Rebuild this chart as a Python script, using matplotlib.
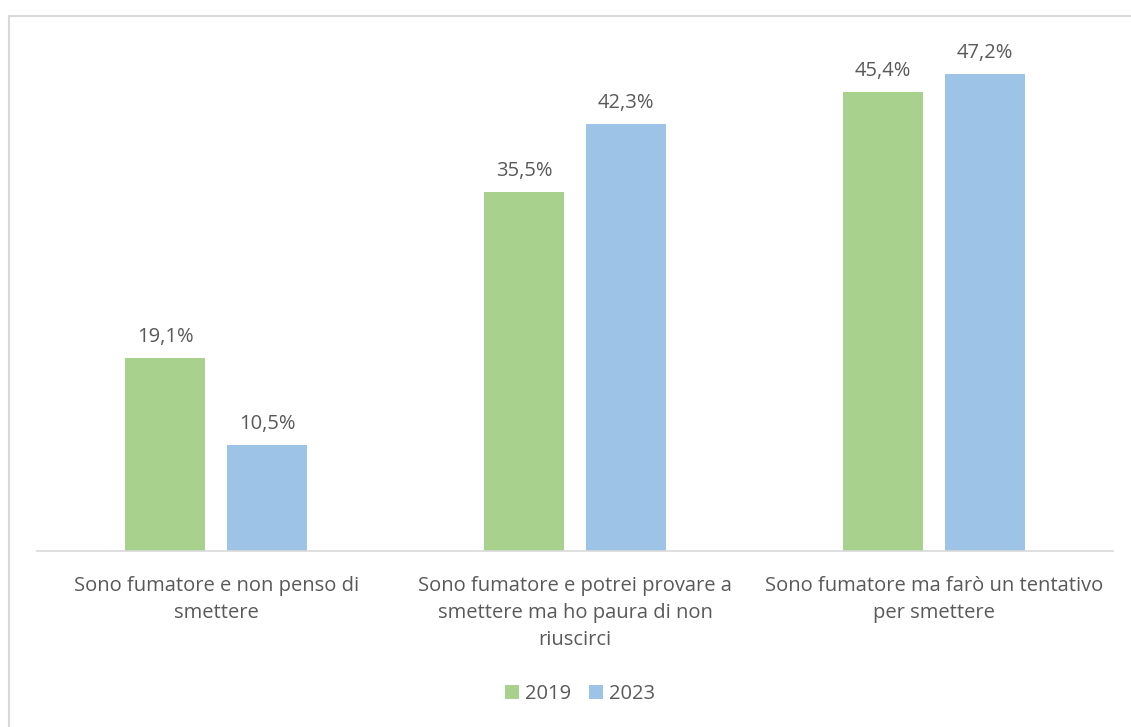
import matplotlib.pyplot as plt
from matplotlib.lines import Line2D
import numpy as np

# Intenzione di smettere di fumare, confronto 2019 / 2023
categorie = ["Sono fumatore e non penso di\nsmettere",
             "Sono fumatore e potrei provare a\nsmettere ma ho paura di non\nriuscirci",
             "Sono fumatore ma farò un tentativo\nper smettere"]
anni = ["2019", "2023"]
valori_2019 = [19.1, 35.5, 45.4]
valori_2023 = [10.5, 42.3, 47.2]

verde = "#A9D18E"
azzurro = "#9DC3E6"
grigio_testo = "#595959"

plt.rcParams['font.family'] = ['Open Sans', 'DejaVu Sans']
fs = 14.5

W, H = 1131, 727
fig = plt.figure(figsize=(W / 100, H / 100), dpi=100)

# cornice grigia del grafico (solo bordo sinistro e superiore visibili)
x0, y0 = 8.5 / W, 1 - 15.5 / H
for xs, ys in (([x0, x0], [-0.01, y0]), ([x0, 1.01], [y0, y0])):
    fig.add_artist(Line2D(xs, ys, transform=fig.transFigure,
                          color="#d9d9d9", linewidth=1.5))

ax = fig.add_axes([37 / W, (H - 551) / H, 1076 / W, (551 - 46) / H])

x = np.arange(len(categorie))
larg = 0.223
off = 0.142
b1 = ax.bar(x - off, valori_2019, larg, color=verde, label=anni[0])
b2 = ax.bar(x + off, valori_2023, larg, color=azzurro, label=anni[1])

for barre, vals in ((b1, valori_2019), (b2, valori_2023)):
    for b, v in zip(barre, vals):
        ax.annotate(f"{v:.1f}%".replace(".", ","),
                    (b.get_x() + b.get_width() / 2, v),
                    xytext=(0, 8), textcoords="offset points",
                    ha="center", va="bottom", fontsize=fs, color=grigio_testo)

ax.set_xlim(-0.5, 2.5)
ax.set_ylim(0, 50)
ax.set_yticks([])
ax.set_xticks(x)
ax.set_xticklabels(categorie, fontsize=fs, color=grigio_testo, linespacing=1.48)
ax.tick_params(axis="x", length=0, pad=18)
for s in ("top", "right", "left"):
    ax.spines[s].set_visible(False)
ax.spines["bottom"].set_color("#d9d9d9")
ax.spines["bottom"].set_linewidth(1.2)

leg = fig.legend(loc="center", bbox_to_anchor=(580 / W, 1 - 694 / H), ncol=2,
                 frameon=False, fontsize=fs, handlelength=0.7, handleheight=0.7,
                 handletextpad=0.3, columnspacing=0.9)
for t in leg.get_texts():
    t.set_color(grigio_testo)

fig.savefig("out.png", dpi=100)
